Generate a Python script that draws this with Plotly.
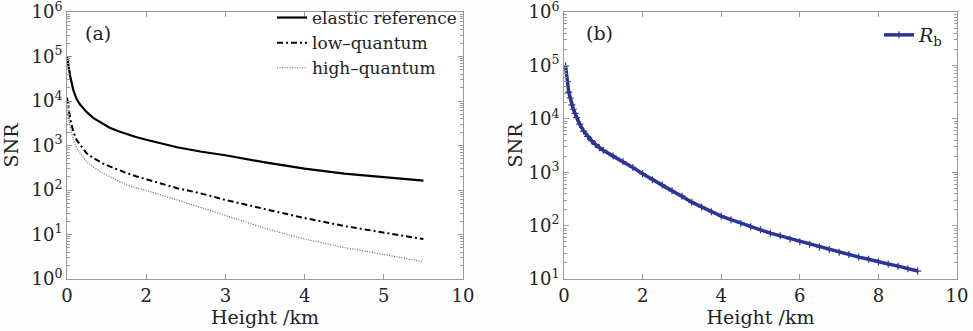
import plotly.graph_objects as go

# ---------------- data ----------------
# Panel (a): x positions on the (oddly labelled) axis, 0..5 tick slots
a_pos = [0, 0.02, 0.04, 0.08, 0.12, 0.165, 0.25, 0.33, 0.45, 0.54, 0.65, 0.755,
         0.87, 1.0, 1.2, 1.39, 1.7, 2.0, 2.5, 3.0, 3.5, 4.0, 4.5]
a_elastic = [100000, 56000, 36300, 17400, 11200, 8300, 5620, 4170, 3160, 2510, 2090, 1780,
             1550, 1350, 1100, 912, 724, 603, 417, 302, 234, 191, 162]
a_low = [12000, 7080, 3980, 2040, 1350, 1050, 661, 525, 398, 339, 282, 240,
         204, 174, 138, 110, 83, 60, 37.2, 23.4, 15.5, 11.0, 7.9]
a_high = [6310, 3980, 2630, 1350, 891, 676, 427, 331, 240, 200, 158, 129,
          112, 98, 76, 60, 40, 26.9, 13.8, 7.9, 5.1, 3.55, 2.45]
a_xtick_vals = [0, 1, 2, 3, 4, 5]
a_xtick_text = ["0", "2", "3", "4", "5", "10"]

# Panel (b)
b_height = [0.04, 0.08, 0.12, 0.16, 0.2, 0.24, 0.28, 0.32, 0.4, 0.5, 0.6, 0.7, 0.8, 0.9,
            1.0, 1.25, 1.5, 1.75, 2.0, 2.25, 2.5, 2.75, 3.0, 3.25, 3.5, 3.75, 4.0,
            4.25, 4.5, 4.75, 5.0, 5.25, 5.5, 5.75, 6.0, 6.25, 6.5, 6.75, 7.0,
            7.25, 7.5, 7.75, 8.0, 8.25, 8.5, 8.75, 9.0]
b_snr = [98000, 50000, 31600, 24500, 18200, 15100, 12600, 10500, 7940, 5890, 4680, 3890,
         3310, 2880, 2570, 2000, 1580, 1230, 933, 724, 575, 447, 355, 275, 224, 182, 151,
         129, 110, 95.5, 83.2, 72.4, 64.6, 56.2, 50.1, 44.7, 39.8, 35.5, 31.6,
         28.8, 25.7, 23.4, 20.9, 19.1, 17.4, 15.5, 14.1]
b_xtick_vals = [0, 2, 4, 6, 8, 10]

y_vals = [1, 10, 100, 1000, 10000, 100000, 1000000]
y_text = ["10<sup>%d</sup>" % i for i in range(7)]
minor_vals = [m * 10 ** d for d in range(0, 6) for m in range(2, 10)]

FONT = "DejaVu Serif"
BLUE = "#2b3595"
AX = "#9a9a9a"
TXT = "#222222"

fig = go.Figure()
fig.add_trace(go.Scatter(x=a_pos, y=a_elastic, mode="lines", name="elastic reference",
                         line=dict(color="black", width=2.2), xaxis="x", yaxis="y",
                         legend="legend"))
fig.add_trace(go.Scatter(x=a_pos, y=a_low, mode="lines", name="low\u2013quantum",
                         line=dict(color="black", width=2, dash="6px,3px,2px,3px"),
                         xaxis="x", yaxis="y", legend="legend"))
fig.add_trace(go.Scatter(x=a_pos, y=a_high, mode="lines", name="high\u2013quantum",
                         line=dict(color="#666666", width=1.2, dash="1px,1.5px"),
                         xaxis="x", yaxis="y", legend="legend"))
fig.add_trace(go.Scatter(x=b_height, y=b_snr, mode="lines+markers",
                         name="<i>R</i><sub>b</sub>",
                         line=dict(color=BLUE, width=3.5),
                         marker=dict(symbol="cross-thin", size=5,
                                     line=dict(color=BLUE, width=1.2)),
                         xaxis="x2", yaxis="y2", legend="legend2"))

common_axis = dict(showline=True, linecolor=AX, linewidth=1, mirror="allticks",
                   ticks="inside", ticklen=5, tickcolor=AX, showgrid=False, zeroline=False,
                   automargin=False, ticklabeloverflow="allow",
                   tickfont=dict(family=FONT, size=18, color=TXT))
minor_axis = dict(ticks="inside", ticklen=3, tickcolor=AX, tickmode="array",
                  tickvals=minor_vals, showgrid=False)
title_font = dict(family=FONT, size=19, color=TXT)

fig.update_layout(
    width=973, height=331,
    margin=dict(l=0, r=0, t=0, b=0),
    paper_bgcolor="#fefefe", plot_bgcolor="#ffffff",
    font=dict(family=FONT, size=17, color=TXT),
    xaxis=dict(common_axis, domain=[67/973, 463/973], range=[0, 5],
               tickvals=a_xtick_vals, ticktext=a_xtick_text,
               title=dict(text="Height /km", font=title_font, standoff=2),
               anchor="y"),
    yaxis=dict(common_axis, domain=[1-279/331, 1-12/331], type="log", range=[0, 6],
               tickvals=y_vals, ticktext=y_text, minor=minor_axis,
               title=dict(text="SNR", font=title_font, standoff=8),
               anchor="x"),
    xaxis2=dict(common_axis, domain=[564/973, 957/973], range=[0, 10],
                tickvals=b_xtick_vals,
                title=dict(text="Height /km", font=title_font, standoff=2),
                anchor="y2"),
    yaxis2=dict(common_axis, domain=[1-279/331, 1-12/331], type="log", range=[1, 6],
                tickvals=y_vals[1:], ticktext=y_text[1:], minor=minor_axis,
                title=dict(text="SNR", font=title_font, standoff=0),
                anchor="x2"),
    legend=dict(x=462/973, y=1.0, xanchor="right", yanchor="top",
                bgcolor="rgba(0,0,0,0)", font=dict(family=FONT, size=17, color=TXT),
                tracegroupgap=0, itemwidth=30),
    legend2=dict(x=948/973, y=1-16/331, xanchor="right", yanchor="top",
                 bgcolor="rgba(0,0,0,0)", font=dict(family=FONT, size=19, color=TXT),
                 itemwidth=30),
    annotations=[
        dict(text="(a)", x=98/973, y=1-33/331, xref="paper", yref="paper",
             xanchor="center", yanchor="middle",
             showarrow=False, font=dict(family=FONT, size=19, color=TXT)),
        dict(text="(b)", x=599/973, y=1-33/331, xref="paper", yref="paper",
             xanchor="center", yanchor="middle",
             showarrow=False, font=dict(family=FONT, size=19, color=TXT)),
    ],
)

fig.write_html("out.html", config={"displayModeBar": False},
               post_script="document.body.style.margin='0';document.body.style.overflow='hidden';")
